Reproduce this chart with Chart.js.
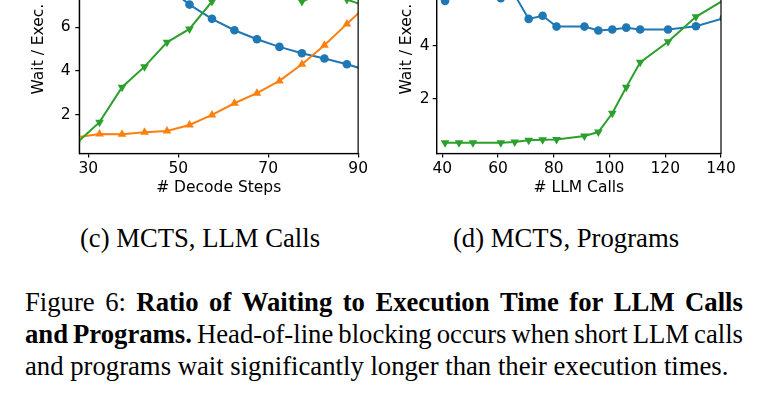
<!DOCTYPE html>
<html>
<head>
<meta charset="utf-8">
<script src="https://cdn.jsdelivr.net/npm/chart.js@4.4.1/dist/chart.umd.min.js"></script>
<style>
  html, body { margin: 0; padding: 0; background: #fff; }
  body { width: 770px; height: 408px; position: relative; overflow: hidden; }
  canvas { position: absolute; top: -80px; }
  #plotC { left: 0; }
  #plotD { left: 370px; }
  .sub { position: absolute; top: 222px; font-family: "Liberation Serif", serif; font-size: 26.7px;
         line-height: 32px; white-space: nowrap; transform: translateX(-50%); color: #000; }
  .cap { position: absolute; left: 25px; top: 286px; width: 718px; font-family: "Liberation Serif", serif;
         font-size: 26.7px; line-height: 32px; color: #000; }
  .cap .row { display: flex; justify-content: space-between; white-space: nowrap; }
  .cap .last { white-space: nowrap; }
</style>
</head>
<body>
<canvas id="plotC" width="370" height="280"></canvas>
<canvas id="plotD" width="390" height="280"></canvas>
<div class="sub" style="left:200px">(c) MCTS, LLM Calls</div>
<div class="sub" style="left:566px">(d) MCTS, Programs</div>
<div class="cap" id="cap"></div>
<script>
'use strict';
// (c) MCTS, LLM Calls
let decodeSteps = [27.5, 32.5, 37.5, 42.5, 47.5, 52.5, 57.5, 62.5, 67.5, 72.5, 77.5, 82.5, 87.5, 92.5];
let blueC   = [13.8, 11.8, 10.2, 8.9, 7.85, 7.03, 6.38, 5.86, 5.45, 5.10, 4.81, 4.57, 4.31, 4.0];
let orangeC = [0.98, 1.13, 1.12, 1.21, 1.27, 1.54, 2.0, 2.53, 2.99, 3.55, 4.31, 5.18, 6.15, 7.1];
let greenC  = [0.73, 1.67, 3.26, 4.2, 5.31, 5.92, 7.17, 8.0, 8.4, 7.9, 7.17, 7.6, 7.26, 6.9];
let xTicksC = [30, 50, 70, 90];
let yTicksC = [2, 4, 6, 8];

// (d) MCTS, Programs
let llmCalls = [41, 46, 51, 61, 66, 71, 76, 81, 91, 96, 101, 106, 111, 121, 131, 141];
let blueD  = [5.70, 6.0, 6.1, 5.80, 5.92, 5.02, 5.14, 4.73, 4.73, 4.58, 4.62, 4.69, 4.62, 4.62, 4.74, 5.05];
let greenD = [0.35, 0.35, 0.35, 0.35, 0.37, 0.44, 0.46, 0.47, 0.60, 0.75, 1.46, 2.44, 3.38, 4.16, 5.10, 5.73];
let xTicksD = [40, 60, 80, 100, 120, 140];
let yTicksD = [2, 4, 6];

// figure caption, one entry per printed line; * marks bold words
let captionLines = [
  'Figure 6: *Ratio *of *Waiting *to *Execution *Time *for *LLM *Calls',
  '*and *Programs. Head-of-line blocking occurs when short LLM calls',
  'and programs wait significantly longer than their execution times.'
];

let cap = document.getElementById('cap');
captionLines.forEach((line, n) => {
  let row = document.createElement('div');
  let last = n === captionLines.length - 1;
  let words = line.split(' ');
  row.className = last ? 'last' : 'row';
  words.forEach((w, i) => {
    let el = document.createElement(w[0] === '*' ? 'b' : 'span');
    el.textContent = w.replace('*', '') + (last && i < words.length - 1 ? ' ' : '');
    row.appendChild(el);
  });
  cap.appendChild(row);
});

let BLUE = '#1f77b4', ORANGE = '#ff7f0e', GREEN = '#2ca02c';
let FONT = {family: 'DejaVu Sans', size: 15.5};

function pts(xs, ys) {
  return xs.map((x, i) => ({x: x, y: ys[i]}));
}

function series(xs, ys, color, style, rot, r) {
  return {
    data: pts(xs, ys), showLine: true,
    borderColor: color, backgroundColor: color, borderWidth: 2,
    pointStyle: style, pointRotation: rot, pointRadius: r, pointBorderWidth: 0,
    pointHoverRadius: r, clip: 0
  };
}

// matplotlib draws a full box round the axes
let frame = {
  id: 'frame',
  afterDraw(chart) {
    let a = chart.chartArea, ctx = chart.ctx;
    ctx.save();
    ctx.strokeStyle = '#000';
    ctx.lineWidth = 1.2;
    ctx.strokeRect(a.left, a.top, a.right - a.left, a.bottom - a.top);
    ctx.restore();
  }
};

function makePlot(id, datasets, xr, xt, xTitle, yr, yt, yWidth, titlePad, tickPad, rightPad) {
  return new Chart(document.getElementById(id), {
    type: 'scatter',
    data: {datasets: datasets},
    plugins: [frame],
    options: {
      responsive: false, animation: false,
      layout: {padding: {top: 24.7, right: rightPad, left: 0, bottom: 0}},
      plugins: {legend: {display: false}, tooltip: {enabled: false}},
      scales: {
        x: {
          type: 'linear', min: xr[0], max: xr[1],
          afterBuildTicks: s => { s.ticks = xt.map(v => ({value: v})); },
          afterFit: s => { s.height = 46.5; },
          grid: {drawOnChartArea: false, drawTicks: true, tickLength: 4, color: '#000', lineWidth: 1.2},
          border: {display: true, color: '#000', width: 1.2},
          ticks: {font: FONT, color: '#000', padding: 2, maxRotation: 0, autoSkip: false,
                  callback: (v, i) => String(xt[i])},
          title: {display: true, text: xTitle, font: FONT, color: '#000', padding: {top: 0, bottom: 3.2}}
        },
        y: {
          type: 'linear', min: yr[0], max: yr[1],
          afterBuildTicks: s => { s.ticks = yt.map(v => ({value: v})); },
          afterFit: s => { s.width = yWidth; },
          grid: {drawOnChartArea: false, drawTicks: true, tickLength: 4, color: '#000', lineWidth: 1.2},
          border: {display: true, color: '#000', width: 1.2},
          ticks: {font: FONT, color: '#000', padding: tickPad, autoSkip: false,
                  callback: (v, i) => String(yt[i])},
          title: {display: true, text: 'Wait / Exec.', font: FONT, color: '#000', padding: {top: titlePad, bottom: 0}}
        }
      }
    }
  });
}

makePlot('plotC', [
  series(decodeSteps, greenC, GREEN, 'triangle', 180, 5),
  series(decodeSteps, orangeC, ORANGE, 'triangle', 0, 5),
  series(decodeSteps, blueC, BLUE, 'circle', 0, 4.3)
], [28, 90], xTicksC, '# Decode Steps', [0.24, 9.76], yTicksC, 79.3, 29.7, 4.6, 11);

makePlot('plotD', [
  series(llmCalls, greenD, GREEN, 'triangle', 180, 5),
  series(llmCalls, blueD, BLUE, 'circle', 0, 4.3)
], [38, 140], xTicksD, '# LLM Calls', [-0.06, 7.82], yTicksD, 66.7, 27.7, 3, 39);
</script>
</body>
</html>
